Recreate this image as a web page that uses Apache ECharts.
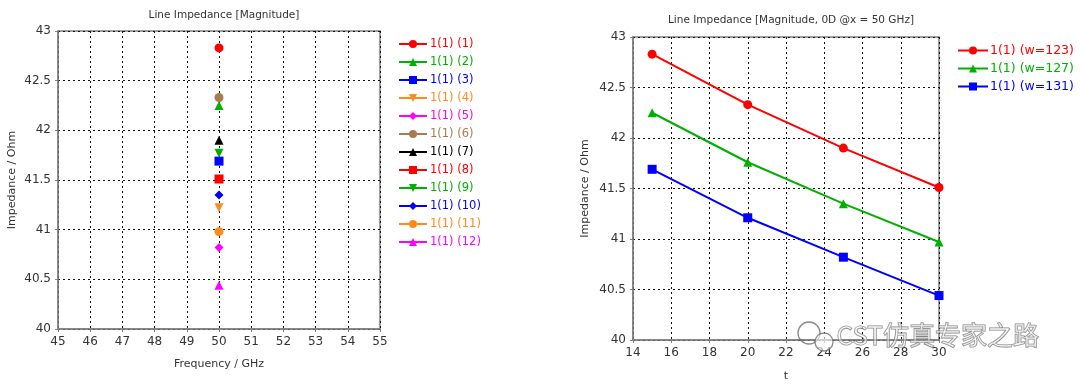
<!DOCTYPE html>
<html><head><meta charset="utf-8">
<script src="https://cdn.jsdelivr.net/npm/echarts@6/dist/echarts.min.js"></script>
<style>html,body{margin:0;padding:0;background:#fff}#c{width:1080px;height:387px}</style>
</head><body><div id="c"></div>
<script>
// Left chart: one point per run at 50 GHz
const leftNames = ['1(1) (1)','1(1) (2)','1(1) (3)','1(1) (4)','1(1) (5)','1(1) (6)','1(1) (7)','1(1) (8)','1(1) (9)','1(1) (10)','1(1) (11)','1(1) (12)'];
const leftFreq = 50;
const leftValues = [42.83, 42.25, 41.69, 41.22, 40.82, 42.33, 41.90, 41.51, 41.77, 41.35, 40.98, 40.44];
const leftColors = ['#ff0000','#00b000','#0000ff','#ff8c1a','#ff00ff','#a97c50','#000000','#ff0000','#00b000','#0000ff','#ff8c1a','#ff00ff'];
const DOWN = 'path://M0,0 L10,0 L5,9 Z';
const leftSymbols = ['circle','triangle','rect',DOWN,'diamond','circle','triangle','rect',DOWN,'diamond','circle','triangle'];

// Right chart: impedance vs t
const tValues = [15, 20, 25, 30];
const rightNames = ['1(1) (w=123)','1(1) (w=127)','1(1) (w=131)'];
const w123 = [42.83, 42.33, 41.90, 41.51];
const w127 = [42.25, 41.76, 41.35, 40.97];
const w131 = [41.69, 41.21, 40.82, 40.44];
const rightColors = ['#ff0000','#00b000','#0000ff'];
const rightSymbols = ['circle','triangle','rect'];

const FONT = 'DejaVu Sans';
const chart = echarts.init(document.getElementById('c'));

function yAx(gi){
  return {gridIndex:gi, type:'value', min:40, max:43, interval:0.5,
    name:'Impedance / Ohm', nameLocation:'middle', nameGap: gi===0?40:42,
    nameTextStyle:{fontFamily:FONT,fontSize:11,color:'#333'},
    axisLine:{show:true,lineStyle:{color:'#808080',width:1.5}},
    axisTick:{show:true,length:3,lineStyle:{color:'#808080'}},
    axisLabel:{fontFamily:FONT,fontSize:12,color:'#333',margin:7},
    splitLine:{show:true,lineStyle:{color:'#111',type:[2,3],width:1}}};
}
function xAx(gi,min,max,interval,name,gap){
  return {gridIndex:gi, type:'value', min, max, interval,
    name, nameLocation:'middle', nameGap:gap,
    nameTextStyle:{fontFamily:FONT,fontSize:11,color:'#333'},
    axisLine:{show:true,onZero:false,lineStyle:{color:'#808080',width:1.5}},
    axisTick:{show:true,length:3,lineStyle:{color:'#808080'}},
    axisLabel:{fontFamily:FONT,fontSize:12,color:'#333',margin:7},
    splitLine:{show:true,lineStyle:{color:'#111',type:[2,3],width:1}}};
}

const series = [];
leftNames.forEach((n,i)=>{
  series.push({name:n, type:'line', xAxisIndex:0, yAxisIndex:0,
    data:[[leftFreq,leftValues[i]]], symbol:leftSymbols[i], symbolSize:9,
    itemStyle:{color:leftColors[i]}, lineStyle:{color:leftColors[i],width:1.5}});
});
const rightData=[w123,w127,w131];
rightNames.forEach((n,i)=>{
  series.push({name:n, type:'line', xAxisIndex:1, yAxisIndex:1,
    data:tValues.map((t,j)=>[t,rightData[i][j]]), symbol:rightSymbols[i], symbolSize:9,
    itemStyle:{color:rightColors[i]}, lineStyle:{color:rightColors[i],width:2}});
});

chart.setOption({
  animation:false,
  textStyle:{fontFamily:FONT},
  title:[
    {text:'Line Impedance [Magnitude]', left:219, top:5, textAlign:'center',
     textStyle:{fontFamily:FONT,fontSize:10.5,fontWeight:'normal',color:'#333'}},
    {text:'Line Impedance [Magnitude, 0D @x = 50 GHz]', left:786, top:10, textAlign:'center',
     textStyle:{fontFamily:FONT,fontSize:10.5,fontWeight:'normal',color:'#333'}}
  ],
  legend:[
    {orient:'vertical', left:393, top:33, itemWidth:28, itemHeight:10, itemGap:6,
     data:leftNames.map((n,i)=>({name:n,textStyle:{color:leftColors[i]}})),
     textStyle:{fontFamily:FONT,fontSize:11.5,padding:[0,0,0,-2]}},
    {orient:'vertical', left:952, top:39, itemWidth:30, itemHeight:10, itemGap:5,
     data:rightNames.map((n,i)=>({name:n,textStyle:{color:rightColors[i]}})),
     textStyle:{fontFamily:FONT,fontSize:12.5,padding:[0,0,0,-3]}}
  ],
  grid:[
    {left:58, top:31, width:322, height:298, show:true, borderColor:'#808080', borderWidth:1.5, backgroundColor:'#fff'},
    {left:633, top:37, width:306, height:304, show:true, borderColor:'#808080', borderWidth:1.5, backgroundColor:'#fff'}
  ],
  xAxis:[xAx(0,45,55,1,'Frequency / GHz',30), xAx(1,14,30,2,'t',31)],
  yAxis:[yAx(0), yAx(1)],
  series,
  graphic:[
    {type:'text', left:836, top:322, z:100,
     style:{text:'CST仿真专家之路', font:'26px "Noto Sans CJK SC"', fill:'rgba(255,255,255,0.5)', stroke:'rgba(100,100,100,0.8)', lineWidth:1.1}},
    {type:'circle', shape:{cx:809, cy:333, r:11}, z:100, style:{fill:'none', stroke:'rgba(100,100,100,0.75)', lineWidth:1.3}},
    {type:'circle', shape:{cx:824, cy:342, r:9}, z:100, style:{fill:'rgba(255,255,255,0.6)', stroke:'rgba(100,100,100,0.75)', lineWidth:1.3}}
  ]
});
</script></body></html>
